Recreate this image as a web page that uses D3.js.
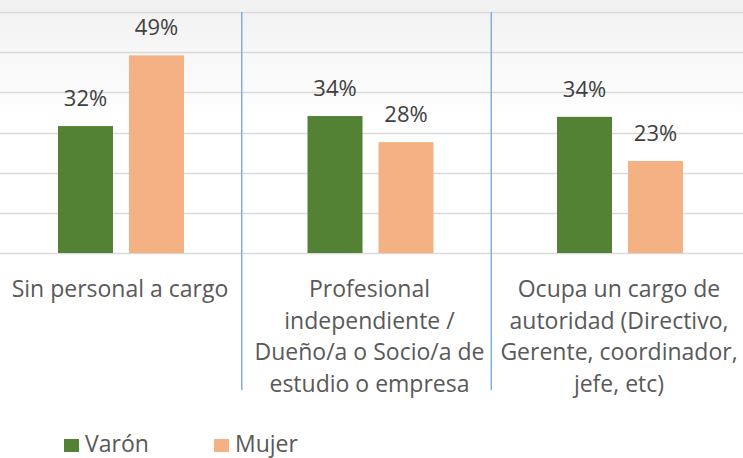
<!DOCTYPE html>
<html>
<head>
<meta charset="utf-8">
<script src="https://cdn.jsdelivr.net/npm/d3@7"></script>
<style>
  html, body { margin: 0; padding: 0; background: #ffffff; }
  svg { display: block; }
</style>
</head>
<body>
<svg id="chart" width="743" height="458"></svg>
<script>
// ---- data ----
const categories = [
  ["Sin personal a cargo"],
  ["Profesional", "independiente /", "Dueño/a o Socio/a de", "estudio o empresa"],
  ["Ocupa un cargo de", "autoridad (Directivo,", "Gerente, coordinador,", "jefe, etc)"]
];
const categoryKeys = ["sin", "prof", "ocupa"];
const seriesNames = ["Varón", "Mujer"];
const varonValues = [0.316, 0.341, 0.339];
const mujerValues = [0.492, 0.276, 0.229];
const gridTicks = [0, 0.1, 0.2, 0.3, 0.4, 0.5, 0.6];
const colors = ["#548235", "#f4b183"];

// ---- layout ----
const W = 743, H = 458;
const svg = d3.select("#chart");

const defs = svg.append("defs");
const grad = defs.append("linearGradient").attr("id", "bg").attr("x1", 0).attr("y1", 0).attr("x2", 0).attr("y2", 1);
grad.append("stop").attr("offset", "0%").attr("stop-color", "#f1f1f1");
grad.append("stop").attr("offset", "100%").attr("stop-color", "#ffffff");
svg.append("rect").attr("x", 0).attr("y", 0).attr("width", W).attr("height", 120).attr("fill", "url(#bg)");

const y = d3.scaleLinear().domain([0, 0.6]).range([253, 12]);
const x = d3.scaleBand().domain(categoryKeys).range([-3.75, 744.75]).padding(0);
const inner = d3.scaleBand().domain(seriesNames).range([-63, 63]).paddingInner(16 / 71).paddingOuter(0);

// gridlines
svg.append("g").selectAll("line").data(gridTicks).join("line")
  .attr("x1", 0).attr("x2", W)
  .attr("y1", d => Math.round(y(d)) + 0.5).attr("y2", d => Math.round(y(d)) + 0.5)
  .attr("stroke", "#d9d9d9").attr("stroke-width", 1.6);

// category separators
const sepOffset = -4;
svg.append("g").selectAll("line").data(categoryKeys.slice(1)).join("line")
  .attr("x1", d => x(d) + sepOffset).attr("x2", d => x(d) + sepOffset)
  .attr("y1", y(0.6)).attr("y2", 390)
  .attr("stroke", "#7fb0e0").attr("stroke-width", 1.5);

// bars
const rows = categoryKeys.map((k, i) => ({ key: k, values: [varonValues[i], mujerValues[i]] }));
const groups = svg.append("g").selectAll("g").data(rows).join("g")
  .attr("transform", d => `translate(${x(d.key) + x.bandwidth() / 2},0)`);

groups.selectAll("rect").data(d => d.values.map((v, j) => ({ v, s: seriesNames[j], j }))).join("rect")
  .attr("x", d => inner(d.s))
  .attr("width", inner.bandwidth())
  .attr("y", d => y(d.v))
  .attr("height", d => y(0) - y(d.v))
  .attr("fill", d => colors[d.j]);

const fmt = d3.format(".0%");
groups.selectAll("text.val").data(d => d.values.map((v, j) => ({ v, s: seriesNames[j], j }))).join("text")
  .attr("class", "val")
  .attr("x", d => inner(d.s) + inner.bandwidth() / 2)
  .attr("y", d => y(d.v) - 20)
  .attr("text-anchor", "middle")
  .attr("font-family", "Open Sans, sans-serif")
  .attr("font-size", 22)
  .attr("fill", "#404040")
  .text(d => fmt(d.v));

// category labels
const lab = svg.append("g").selectAll("text").data(rows).join("text")
  .attr("x", d => x(d.key) + x.bandwidth() / 2 - 1)
  .attr("y", 297)
  .attr("text-anchor", "middle")
  .attr("font-family", "Open Sans, sans-serif")
  .attr("font-size", 23)
  .attr("fill", "#595959");
lab.selectAll("tspan").data((d, i) => categories[i]).join("tspan")
  .attr("x", function() { return d3.select(this.parentNode).attr("x"); })
  .attr("dy", (d, i) => i === 0 ? 0 : 31.7)
  .text(d => d);

// legend
const legendX = [64, 214];
const leg = svg.append("g").selectAll("g").data(seriesNames).join("g")
  .attr("transform", (d, i) => `translate(${legendX[i]},439)`);
leg.append("rect").attr("width", 15).attr("height", 13).attr("fill", (d, i) => colors[i]);
leg.append("text").attr("x", 21).attr("y", 13)
  .attr("font-family", "Open Sans, sans-serif").attr("font-size", 23).attr("fill", "#595959")
  .text(d => d);
</script>
</body>
</html>
